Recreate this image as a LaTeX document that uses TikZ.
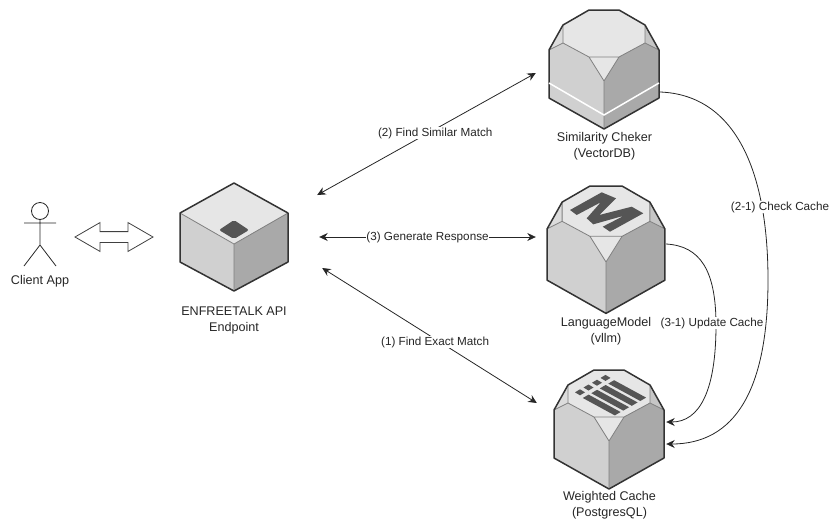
\documentclass[tikz,border=0pt]{standalone}
\usepackage{fontspec}
\setmainfont{Liberation Sans}
\usetikzlibrary{shapes,arrows.meta,positioning}

\definecolor{topface}{HTML}{E6E6E6}
\definecolor{leftface}{HTML}{D0D0D0}
\definecolor{rightface}{HTML}{A9A9A9}
\definecolor{leftcorner}{HTML}{DCDCDC}
\definecolor{rightcorner}{HTML}{C6C6C6}
\definecolor{edgedark}{HTML}{333333}
\definecolor{edgelight}{HTML}{808080}
\definecolor{logodark}{HTML}{555555}

\tikzset{
    iconbox/.style={rectangle, inner sep=0pt},
    caption/.style={align=center, inner sep=0pt, text=black!85, font=\fontsize{12.6}{16}\selectfont},
    linklabel/.style={fill=white, inner sep=0.5pt, text=black!85, font=\fontsize{11.7}{15}\selectfont},
    link/.style={line width=0.8pt, black!85, {Stealth[length=8.5pt,width=8pt]}-{Stealth[length=8.5pt,width=8pt]}},
    cacheline/.style={line width=0.8pt, black!85, -{Stealth[length=8.5pt,width=8pt]}},
    hexbox/.pic={
        \fill[topface] (-15,-71) -- (15,-71) -- (41,-56) -- (41,-38) -- (15,-24) -- (-15,-24) -- (-41,-38) -- (-41,-56) -- cycle;
        \fill[leftcorner] (-55,-31) -- (-41,-56) -- (-41,-38) -- cycle;
        \fill[rightcorner] (55,-31) -- (41,-56) -- (41,-38) -- cycle;
        \fill[leftface] (0,0) -- (-15,-24) -- (-41,-38) -- (-55,-31) -- (-55,17) -- (0,48) -- cycle;
        \fill[rightface] (0,0) -- (15,-24) -- (41,-38) -- (55,-31) -- (55,17) -- (0,48) -- cycle;
        \fill[topface] (0,0) -- (-15,-24) -- (15,-24) -- cycle;
        \draw[edgelight, line width=0.8pt, line join=round] (-41,-56) -- (-41,-38) -- (-15,-24) -- (15,-24) -- (41,-38) -- (41,-56)
            (-55,-31) -- (-41,-38) (55,-31) -- (41,-38) (-15,-24) -- (0,0) -- (15,-24) (0,0) -- (0,48);
        \draw[edgedark, line width=1.5pt, line join=round] (-15,-71) -- (15,-71) -- (41,-56) -- (55,-31) -- (55,17) -- (0,48) -- (-55,17) -- (-55,-31) -- (-41,-56) -- cycle;
    },
    cubebox/.pic={
        \fill[topface] (0,-61) -- (54,-31) -- (0,0) -- (-54,-31) -- cycle;
        \fill[leftface] (0,0) -- (-54,-31) -- (-54,18) -- (0,47) -- cycle;
        \fill[rightface] (0,0) -- (54,-31) -- (54,18) -- (0,47) -- cycle;
        \draw[edgelight, line width=0.8pt] (-54,-31) -- (0,0) -- (54,-31) (0,0) -- (0,47);
        \draw[edgedark, line width=1.5pt, line join=round] (0,-61) -- (54,-31) -- (54,18) -- (0,47) -- (-54,18) -- (-54,-31) -- cycle;
        \fill[logodark, rounded corners=2pt] (0,-24) -- (15,-14) -- (0,-5) -- (-15,-14) -- cycle;
    },
}

\begin{document}
\begin{tikzpicture}[x=1pt,y=-1pt]
        \useasboundingbox (0,0) rectangle (833,520);

        % boxes
        \pic at (234,244) {cubebox};
        \pic at (604,81) {hexbox};
        \pic[scale=1.07] at (606,262) {hexbox};
        \pic at (609,441) {hexbox};

        \draw[white, line width=1.5pt] (549,83) -- (604,115) -- (659,83);

        \begin{scope}[shift={(606,262)}]
            \fill[logodark] (-36,-52) -- (-4.3,-69.7) -- (10,-63.7) -- (-6.7,-47) -- (25.7,-55.3) -- (37.3,-48.7) -- (4,-30.3) -- (-3.3,-35.3)
                -- (18,-46.3) -- (-12.7,-37.7) -- (-19.3,-43.7) -- (-5.3,-59.7) -- (-29.3,-47) -- cycle;
        \end{scope}

        \foreach \i in {0,1,2,3} {
            \begin{scope}[shift={({580+8.5*\i},{392.3-4.8*\i})}]
                \fill[logodark] (-5,0) -- (0,-3) -- (5,0) -- (0,3) -- cycle;
                \fill[logodark] (2.8,5.7) -- (8.6,2.3) -- (40.6,19.7) -- (34.8,23.1) -- cycle;
            \end{scope}
        }

        \node[iconbox, minimum width=108, minimum height=108] (api) at (234,237) {};
        \node[iconbox, minimum width=111, minimum height=119] (similarity) at (604.5,69.5) {};
        \node[iconbox, minimum width=118, minimum height=127] (language) at (606,249.5) {};
        \node[iconbox, minimum width=111, minimum height=117] (cache) at (609.5,429.5) {};
        \node[iconbox, minimum width=32, minimum height=64] (client) at (40,234) {};

        % client app
        \draw[black!85, line width=0.8pt] (40,211) circle (8.5);
        \draw[black!85, line width=0.8pt] (40,219.5) -- (40,245) (24,223) -- (56,223) (24,266) -- (40,245) -- (56,266);
        \node[double arrow, draw=black!75, line width=0.8pt, inner xsep=0pt, inner ysep=5pt, minimum height=78, minimum width=28,
            double arrow head extend=9, double arrow tip angle=60] (exchange) at (114,237) {};

        % captions
        \node[caption, below=9pt of client] (clientname) {Client App};
        \node[caption, below=15pt of api] (apiname) {ENFREETALK API\\Endpoint};
        \node[caption, below=3pt of similarity] (similarityname) {Similarity Cheker\\(VectorDB)};
        \node[caption, below=4pt of language] (languagename) {LanguageModel\\(vllm)};
        \node[caption, below=3pt of cache] (cachename) {Weighted Cache\\(PostgresQL)};

        % links
        \draw[link] ([xshift=29,yshift=42]api.east) -- node[linklabel, pos=.54, yshift=-4] (findsimilar) {(2) Find Similar Match} ([xshift=-13,yshift=-3.5]similarity.west);
        \draw[link] ([xshift=31]api.east) -- node[linklabel] (generate) {(3) Generate Response} ([xshift=-11,yshift=12.5]language.west);
        \draw[link] ([xshift=34,yshift=-31]api.east) -- node[linklabel, pos=.526, yshift=-3] (findexact) {(1) Find Exact Match} ([xshift=-17,yshift=26.5]cache.west);

        \draw[cacheline] ([yshift=-22.5]similarity.east) .. controls (735,95) and (768,170) .. (768,280) .. controls (768,390) and (735,444) .. ([xshift=1,yshift=-14.5]cache.east);
        \draw[cacheline] ([xshift=1,yshift=5.5]language.east) .. controls (700,246) and (716,270) .. (716,325) .. controls (716,390) and (700,422) .. ([xshift=1,yshift=7.5]cache.east);
        \node[linklabel] (checkcache) at (780,207) {(2-1) Check Cache};
        \node[linklabel] (updatecache) at (712,323) {(3-1) Update Cache};
\end{tikzpicture}
\end{document}
